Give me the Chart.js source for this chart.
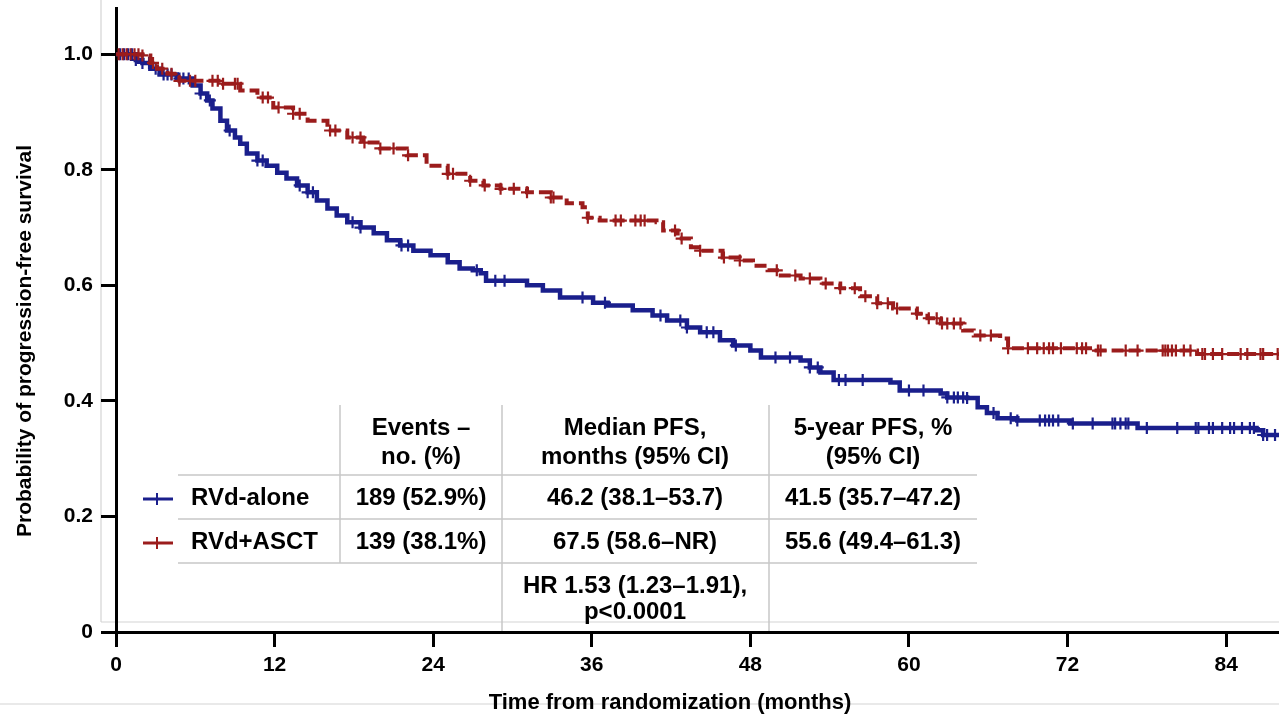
<!DOCTYPE html>
<html>
<head>
<meta charset="utf-8">
<script src="https://cdn.jsdelivr.net/npm/chart.js@4.4.0/dist/chart.umd.min.js"></script>
<style>
  html, body { margin: 0; padding: 0; background: #fff; }
  #wrap { width: 1279px; height: 714px; position: relative; }
</style>
</head>
<body>
<div id="wrap"><canvas id="kmChart"></canvas></div>
<script>
// Kaplan-Meier curves (months, survival probability)
const alone_time = [0, 0.8, 1.5, 2.0, 2.6, 3.3, 4.6, 5.8, 6.4, 6.9, 7.3, 7.9, 8.4, 9.0, 9.4, 9.9, 10.7, 11.4, 12.2, 12.9, 13.7, 14.5, 15.2, 16.0, 16.7, 17.5, 18.5, 19.5, 20.5, 21.5, 22.5, 23.8, 25.1, 26.0, 27.0, 27.6, 28.0, 31.1, 32.3, 33.6, 36.1, 37.2, 39.1, 40.6, 41.7, 43.2, 44.2, 45.7, 46.7, 48.0, 48.8, 51.8, 52.5, 53.3, 54.3, 58.6, 59.3, 62.4, 62.9, 64.4, 65.2, 65.9, 66.7, 68.2, 72.2, 77.3, 86.3, 86.8, 88];
const alone_surv = [1.0, 1.0, 0.99, 0.985, 0.975, 0.965, 0.958, 0.946, 0.932, 0.920, 0.906, 0.885, 0.868, 0.856, 0.845, 0.828, 0.816, 0.807, 0.795, 0.785, 0.773, 0.761, 0.747, 0.733, 0.721, 0.709, 0.700, 0.690, 0.678, 0.669, 0.660, 0.652, 0.640, 0.629, 0.626, 0.621, 0.608, 0.600, 0.591, 0.579, 0.570, 0.565, 0.557, 0.548, 0.539, 0.527, 0.519, 0.505, 0.496, 0.487, 0.475, 0.470, 0.458, 0.449, 0.436, 0.432, 0.418, 0.413, 0.406, 0.405, 0.389, 0.379, 0.370, 0.366, 0.361, 0.353, 0.349, 0.341, 0.339];

const asct_time = [0, 2.0, 2.6, 3.1, 3.9, 4.8, 8.1, 9.4, 10.7, 11.9, 13.4, 14.5, 16.0, 17.5, 18.7, 20.0, 22.0, 23.5, 25.1, 26.8, 27.8, 29.1, 31.1, 32.9, 34.1, 35.3, 35.7, 36.6, 40.9, 41.4, 42.5, 43.5, 44.2, 45.9, 47.2, 48.2, 49.3, 50.3, 51.8, 53.3, 54.8, 56.3, 57.6, 58.8, 60.6, 61.4, 62.4, 64.1, 64.9, 66.9, 67.5, 73.7, 81.8, 88];
const asct_surv = [1.0, 0.998, 0.985, 0.975, 0.966, 0.954, 0.949, 0.937, 0.925, 0.908, 0.897, 0.885, 0.868, 0.856, 0.847, 0.837, 0.825, 0.807, 0.793, 0.781, 0.773, 0.767, 0.761, 0.752, 0.742, 0.735, 0.717, 0.712, 0.709, 0.695, 0.681, 0.666, 0.660, 0.648, 0.643, 0.634, 0.626, 0.617, 0.612, 0.603, 0.595, 0.581, 0.569, 0.560, 0.551, 0.543, 0.534, 0.522, 0.513, 0.508, 0.491, 0.487, 0.481, 0.481];

// censoring times (months)
const alone_censor = [0.3, 0.6, 0.9, 1.2, 1.5, 2.0, 2.5, 3.0, 3.6, 3.9, 4.2, 4.8, 5.1, 5.5, 6.4, 7.1, 8.6, 10.7, 11.1, 13.9, 14.5, 14.9, 17.9, 18.5, 21.6, 22.1, 27.3, 28.7, 29.4, 35.3, 37.0, 41.2, 42.7, 43.2, 44.7, 45.2, 46.9, 49.9, 51.0, 52.5, 53.1, 54.7, 55.2, 56.5, 60.0, 61.1, 62.9, 63.4, 63.7, 64.1, 64.4, 66.4, 67.7, 68.2, 69.9, 70.3, 70.6, 70.9, 71.3, 72.4, 73.9, 75.4, 75.6, 76.0, 76.4, 76.6, 78.0, 80.3, 81.7, 81.9, 82.7, 83.0, 83.7, 84.3, 84.6, 85.2, 85.8, 86.1, 86.8, 87.1, 87.7];
const asct_censor = [0.2, 0.5, 0.8, 1.1, 1.4, 1.7, 2.0, 2.8, 3.5, 4.2, 4.8, 5.6, 6.0, 7.3, 7.7, 8.1, 9.0, 9.2, 11.1, 11.5, 12.3, 13.4, 13.9, 16.2, 16.6, 17.9, 18.5, 18.8, 20.0, 21.0, 22.1, 25.1, 25.5, 26.8, 27.9, 29.1, 30.1, 31.1, 32.9, 33.1, 35.7, 37.8, 38.2, 39.3, 39.7, 40.0, 42.3, 42.8, 44.2, 46.0, 47.2, 50.0, 51.4, 52.5, 53.7, 54.8, 55.9, 56.7, 57.6, 58.4, 59.1, 60.6, 61.5, 62.1, 62.5, 62.9, 63.4, 63.9, 65.4, 66.2, 67.5, 69.0, 69.7, 70.2, 70.6, 70.9, 71.5, 72.7, 73.1, 73.4, 74.3, 74.5, 76.4, 77.3, 79.2, 79.4, 79.6, 79.9, 80.2, 80.8, 81.3, 82.2, 82.4, 83.0, 83.7, 85.1, 85.6, 86.6, 86.8, 87.9];

const x_ticks = [0, 12, 24, 36, 48, 60, 72, 84];
const y_ticks = [0, 0.2, 0.4, 0.6, 0.8, 1.0];

// table text
const arm_labels = ['RVd-alone', 'RVd+ASCT'];
const table_header = [['Events –', 'no. (%)'], ['Median PFS,', 'months (95% CI)'], ['5-year PFS, %', '(95% CI)']];
const events_col = ['189 (52.9%)', '139 (38.1%)'];
const median_col = ['46.2 (38.1–53.7)', '67.5 (58.6–NR)'];
const fiveyear_col = ['41.5 (35.7–47.2)', '55.6 (49.4–61.3)'];
const hr_text = ['HR 1.53 (1.23–1.91),', 'p<0.0001'];

const BLUE = '#1a1f8c';
const RED = '#9b1c1c';
const FONT = '"Liberation Sans", Arial, sans-serif';

function toPoints(t, s) {
    return t.map((v, i) => ({ x: v, y: s[i] }));
}

// survival value of a step curve at time t
function survAt(t_arr, s_arr, t) {
    let s = s_arr[0];
    for (let i = 0; i < t_arr.length; i++) {
        if (t_arr[i] <= t) s = s_arr[i];
        else break;
    }
    return s;
}

function censorPoints(c, t_arr, s_arr) {
    return c.map(t => ({ x: t, y: survAt(t_arr, s_arr, t) }));
}

const tablePlugin = {
    id: 'tablePlugin',
    beforeDraw(chart) {
        const ctx = chart.ctx;
        ctx.save();
        ctx.strokeStyle = '#d4d4d4';
        ctx.lineWidth = 1.2;
        ctx.beginPath();
        ctx.moveTo(101, 0); ctx.lineTo(101, 622);
        ctx.moveTo(101, 622); ctx.lineTo(1279, 622);
        ctx.moveTo(0, 704); ctx.lineTo(1279, 704);
        ctx.stroke();
        // table grid
        ctx.strokeStyle = '#c8c8c8';
        ctx.lineWidth = 1.5;
        ctx.beginPath();
        [475, 519, 563].forEach(y => { ctx.moveTo(178, y); ctx.lineTo(977, y); });
        ctx.moveTo(340, 405); ctx.lineTo(340, 563);
        ctx.moveTo(502, 405); ctx.lineTo(502, 634);
        ctx.moveTo(769, 405); ctx.lineTo(769, 634);
        ctx.stroke();
        ctx.restore();
    },
    afterDraw(chart) {
        const ctx = chart.ctx;
        ctx.save();
        ctx.fillStyle = '#000';
        ctx.textBaseline = 'middle';
        ctx.textAlign = 'center';
        ctx.font = 'bold 24px ' + FONT;
        const colX = [421, 635, 873];
        table_header.forEach((h, i) => {
            ctx.fillText(h[0], colX[i], 428);
            ctx.fillText(h[1], colX[i], 457);
        });
        const rowY = [498, 542];
        [events_col, median_col, fiveyear_col].forEach((col, i) => {
            col.forEach((txt, j) => ctx.fillText(txt, colX[i], rowY[j]));
        });
        ctx.fillText(hr_text[0], 635, 586);
        ctx.fillText(hr_text[1], 635, 612);
        ctx.textAlign = 'left';
        arm_labels.forEach((txt, j) => ctx.fillText(txt, 191, rowY[j]));

        // legend markers
        [BLUE, RED].forEach((c, j) => {
            const y = rowY[j] + 1;
            ctx.strokeStyle = c;
            ctx.lineWidth = 3;
            ctx.beginPath();
            ctx.moveTo(143, y); ctx.lineTo(173, y);
            ctx.stroke();
            ctx.lineWidth = 2;
            ctx.beginPath();
            ctx.moveTo(157, y - 6); ctx.lineTo(157, y + 6);
            ctx.stroke();
        });

        // axis titles
        ctx.textAlign = 'center';
        ctx.font = 'bold 22px ' + FONT;
        ctx.fillText('Time from randomization (months)', 670, 703);
        ctx.translate(25, 341);
        ctx.rotate(-Math.PI / 2);
        ctx.font = 'bold 21px ' + FONT;
        ctx.fillText('Probability of progression-free survival', 0, 0);
        ctx.restore();
    }
};

const km_data = {
    datasets: [{
        label: 'RVd+ASCT censored',
        data: censorPoints(asct_censor, asct_time, asct_surv),
        showLine: false,
        pointStyle: 'cross',
        pointRadius: 6,
        pointBorderWidth: 2.2,
        borderColor: RED,
        backgroundColor: RED
    }, {
        label: 'RVd+ASCT',
        data: toPoints(asct_time, asct_surv),
        stepped: true,
        borderColor: RED,
        borderWidth: 4,
        borderDash: [12, 5],
        pointRadius: 0,
        fill: false
    }, {
        label: 'RVd-alone censored',
        data: censorPoints(alone_censor, alone_time, alone_surv),
        showLine: false,
        pointStyle: 'cross',
        pointRadius: 6,
        pointBorderWidth: 2.2,
        borderColor: BLUE,
        backgroundColor: BLUE
    }, {
        label: 'RVd-alone',
        data: toPoints(alone_time, alone_surv),
        stepped: true,
        borderColor: BLUE,
        borderWidth: 4.5,
        pointRadius: 0,
        fill: false
    }]
};

Chart.defaults.color = '#000';
Chart.defaults.font.family = FONT;

const configKM = {
    type: 'line',
    data: km_data,
    options: {
        responsive: true,
        maintainAspectRatio: false,
        animation: false,
        layout: { autoPadding: false, padding: { top: 8, right: 0, bottom: 0, left: 0 } },
        plugins: {
            legend: { display: false },
            tooltip: { enabled: false }
        },
        scales: {
            x: {
                type: 'linear',
                min: 0,
                max: 88,
                afterBuildTicks: s => { s.ticks = x_ticks.map(v => ({ value: v })); },
                afterFit: s => { s.height = 82; },
                grid: { drawOnChartArea: false, tickLength: 15, tickWidth: 3, tickColor: '#000' },
                border: { color: '#000', width: 3 },
                ticks: { font: { size: 21, weight: 'bold' }, padding: 6, maxRotation: 0 }
            },
            y: {
                min: 0,
                max: 1.08,
                afterBuildTicks: s => { s.ticks = y_ticks.map(v => ({ value: v })); },
                afterFit: s => { s.width = 116; s.paddingTop = 0; s.paddingBottom = 0; },
                grid: { drawOnChartArea: false, tickLength: 15, tickWidth: 3, tickColor: '#000' },
                border: { color: '#000', width: 3 },
                ticks: {
                    font: { size: 21, weight: 'bold' },
                    padding: 8,
                    callback: v => v === 0 ? '0' : v.toFixed(1)
                }
            }
        }
    },
    plugins: [tablePlugin]
};

const KMChart = new Chart(document.getElementById('kmChart'), configKM);
</script>
</body>
</html>
